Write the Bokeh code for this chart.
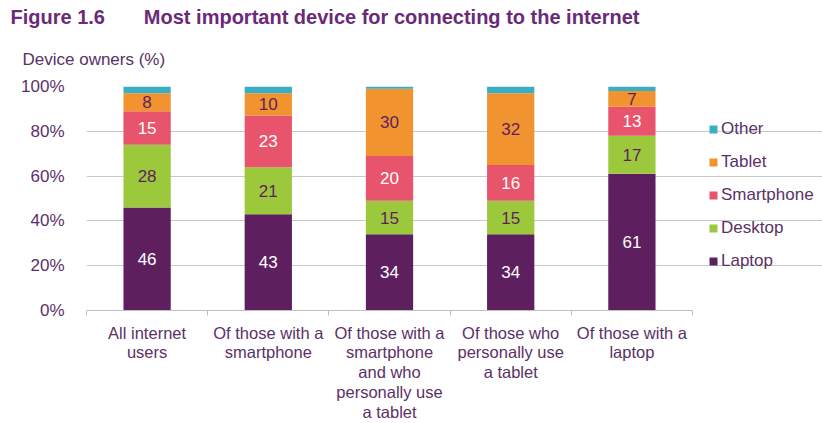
from bokeh.plotting import figure
from bokeh.models import (ColumnDataSource, Title, Legend, LegendItem, FixedTicker,
                          Range1d, NumeralTickFormatter)
from bokeh.core.properties import value
from bokeh.embed import file_html
from bokeh.resources import INLINE

categories = ["All internet\nusers", "Of those with a\nsmartphone",
              "Of those with a\nsmartphone\nand who\npersonally use\na tablet",
              "Of those who\npersonally use\na tablet", "Of those with a\nlaptop"]
laptop = [46, 43, 34, 34, 61]
desktop = [28, 21, 15, 15, 17]
smartphone = [15, 23, 20, 16, 13]
tablet = [8, 10, 30, 32, 7]
other = [3, 3, 1, 3, 2]
series_names = ["Laptop", "Desktop", "Smartphone", "Tablet", "Other"]
y_ticks = [0, 20, 40, 60, 80, 100]

colors = ["#5E1F5F", "#9CC83C", "#E8546B", "#F1932F", "#3BAFC2"]
label_colors = ["white", "#5E1F5F", "white", "#5E1F5F", None]
purple = "#6A2A78"
tickc = "#5A3166"
FONT = "Liberation Sans"

FL, FR, FT, FB = 86, 692, 86, 316
XU = (FR - FL) / 5.0
x_end = (822 - FL) / XU

xs = [i + 0.5 for i in range(len(categories))]
series = [laptop, desktop, smartphone, tablet, other]
data = {"x": xs}
for n, s in zip(series_names, series):
    data[n] = s
src = ColumnDataSource(data)

p = figure(width=822, height=423, output_backend="svg", toolbar_location=None,
           x_range=Range1d(0, x_end), y_range=Range1d(0, 100),
           min_border_left=FL, min_border_right=0, min_border_top=FT,
           min_border_bottom=423 - FB)
p.outline_line_color = None
p.background_fill_color = "white"
p.title.visible = False

rs = p.vbar_stack(series_names, x="x", width=0.39, color=colors, source=src,
                  line_color=None)

# data labels
for i, (n, s) in enumerate(zip(series_names, series)):
    if label_colors[i] is None:
        continue
    base = [sum(series[k][j] for k in range(i)) for j in range(len(xs))]
    ys = [b + v / 2 for b, v in zip(base, s)]
    lsrc = ColumnDataSource({"x": xs, "y": ys, "t": [str(v) for v in s]})
    p.text(x="x", y="y", text="t", source=lsrc, text_align="center",
           text_baseline="middle", text_color=label_colors[i],
           text_font=value(FONT), text_font_size="17px")

# axes
p.yaxis.ticker = FixedTicker(ticks=y_ticks)
p.yaxis.formatter = NumeralTickFormatter(format="0")
p.yaxis.major_label_overrides = {t: f"{t}%" for t in y_ticks}
p.yaxis.axis_line_color = None
p.yaxis.major_tick_line_color = None
p.yaxis.minor_tick_line_color = None
p.yaxis.major_label_text_font = FONT
p.yaxis.major_label_text_font_size = "17px"
p.yaxis.major_label_text_color = tickc
p.yaxis.major_label_standoff = 16

p.xaxis.ticker = FixedTicker(ticks=xs, minor_ticks=[0, 1, 2, 3, 4, 5])
p.xaxis.bounds = (0, 5)
p.xaxis.major_label_overrides = {x: c for x, c in zip(xs, categories)}
p.xaxis.axis_line_color = "#BFBFBF"
p.xaxis.major_tick_line_color = None
p.xaxis.minor_tick_line_color = "#BFBFBF"
p.xaxis.minor_tick_out = 5
p.xaxis.minor_tick_in = 0
p.xaxis.major_label_text_font = FONT
p.xaxis.major_label_text_font_size = "16.5px"
p.xaxis.major_label_text_color = tickc
p.xaxis.major_label_standoff = 7
p.xaxis.major_label_text_line_height = 1.1

p.xgrid.grid_line_color = None
p.ygrid.grid_line_color = "#C8C8C8"
p.ygrid.bounds = (0, 5)

# legend inside the (extended) frame
items = [LegendItem(label=n, renderers=[r]) for n, r in zip(series_names, rs)][::-1]
leg = Legend(items=items, location=(622, 39), orientation="vertical")
leg.glyph_width = 10
leg.glyph_height = 10
leg.label_height = 20
leg.spacing = 13
leg.label_standoff = 3
leg.padding = 0
leg.margin = 0
leg.border_line_color = None
leg.background_fill_alpha = 0
leg.label_text_font = FONT
leg.label_text_font_size = "17px"
leg.label_text_color = tickc
p.add_layout(leg, "center")

# titles
sub = Title(text="Device owners (%)", align="left", offset=-64,
            text_font=FONT, text_font_style="normal", text_font_size="17px",
            text_color=tickc, standoff=35)
p.add_layout(sub, "above")
gap = "\u00a0" * 7
main = Title(text="Figure 1.6" + gap + "Most important device for connecting to the internet",
             align="left", offset=-76, text_font=FONT, text_font_style="bold",
             text_font_size="20px", text_color=purple, standoff=5)
p.add_layout(main, "above")

open("out.html", "w").write(file_html(p, INLINE))
